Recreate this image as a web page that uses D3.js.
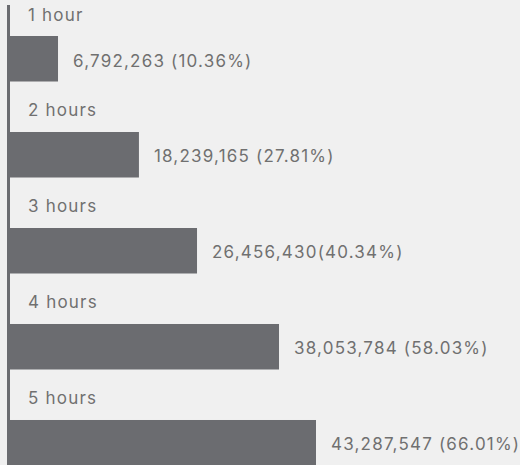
<!DOCTYPE html>
<html lang="en">
<head>
	<meta charset="utf-8">
	<title>Hours bar chart</title>
	<script src="https://d3js.org/d3.v7.min.js"></script>
	<style type="text/css">
		body{
			margin: 0;
			background-color: #f0f0f0;
		}
		svg{
			display: block;
			background-color: #f0f0f0;
		}
		text{
			font-family: Inter, "Noto Sans", sans-serif;
			font-size: 17px;
			letter-spacing: 1.2px;
			fill: #707070;
		}
	</style>
</head>
<body>
	<svg id="chart"></svg>

	<script type="text/javascript">

	// data
	var categories = ["1 hour", "2 hours", "3 hours", "4 hours", "5 hours"]
	var counts = [6792263, 18239165, 26456430, 38053784, 43287547]
	var valueLabels = [
		"6,792,263 (10.36%)",
		"18,239,165 (27.81%)",
		"26,456,430(40.34%)",
		"38,053,784 (58.03%)",
		"43,287,547 (66.01%)"
	]

	// size
	var windowW = 520
	var windowH = 465
	var axisX = 8.5
	var barX = 10
	var barColor = "#6b6c70"

	var svg = d3.select("#chart")
		.attr("width", windowW)
		.attr("height", windowH)

	var x = d3.scaleLinear()
		.domain([0, d3.max(counts)])
		.range([barX, barX + 306])

	// band: step 96, bar 45.5
	var y = d3.scaleBand()
		.domain(categories)
		.range([36, 36 + 96 * 4 + 45.5])
		.paddingInner(0.526)
		.paddingOuter(0)

	var rows = categories.map((c, i) => ({cat: c, count: counts[i], label: valueLabels[i]}))

	// bars
	svg.append("g")
		.selectAll("rect")
		.data(rows)
		.join("rect")
		.attr("fill", barColor)
		.attr("x", x(0))
		.attr("y", d => y(d.cat))
		.attr("width", d => x(d.count) - x(0))
		.attr("height", y.bandwidth())

	// category labels above bars
	svg.append("g")
		.selectAll("text")
		.data(rows)
		.join("text")
		.attr("x", 28)
		.attr("y", d => y(d.cat) - 15.5)
		.text(d => d.cat)

	// value labels right of bars
	svg.append("g")
		.selectAll("text")
		.data(rows)
		.join("text")
		.attr("x", d => x(d.count) + 15)
		.attr("y", d => y(d.cat) + 30.5)
		.text(d => d.label)

	// left axis line
	svg.append("line")
		.attr("x1", axisX)
		.attr("x2", axisX)
		.attr("y1", 5)
		.attr("y2", windowH)
		.attr("stroke", barColor)
		.attr("stroke-width", 3)

	</script>
</body>
</html>
